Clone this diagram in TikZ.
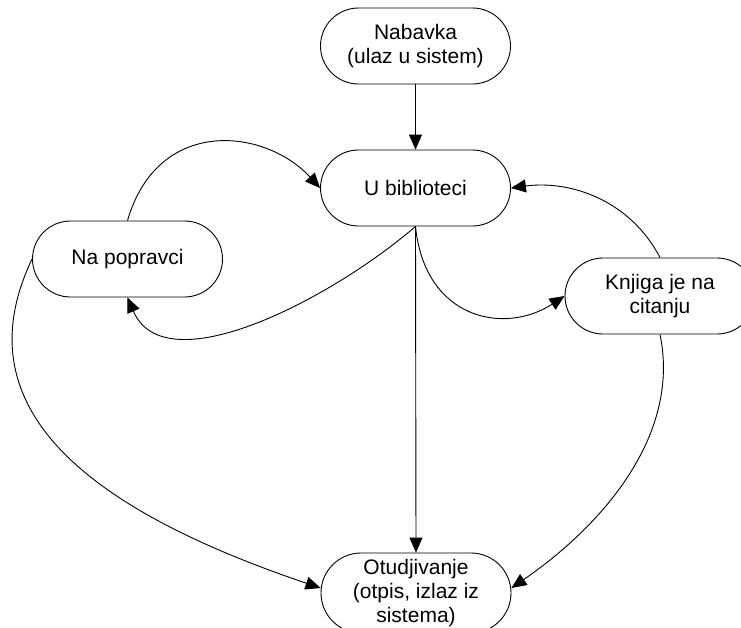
\documentclass[tikz,border=0pt]{standalone}
\usepackage{fontspec}
\setmainfont{Liberation Sans}
\usetikzlibrary{arrows.meta}

\begin{document}
\begin{tikzpicture}[
    x=1pt, y=-1pt,
    state/.style={draw, line width=0.9pt, rectangle, rounded corners=38pt,
      minimum width=190pt, minimum height=76pt, inner sep=2pt, align=center,
      font=\fontsize{21}{24}\selectfont},
    flow/.style={draw, line width=0.9pt,
      -{Triangle[length=15pt,width=13pt]}}
  ]
  % canvas
  \fill[white] (0,0) rectangle (741,627);
  \useasboundingbox (0,0) rectangle (741,627);

  % states of a book
  \node[state] (nab) at (415.5,46)  {Nabavka\\(ulaz u sistem)};
  \node[state] (bib) at (415.5,188) {U biblioteci};
  \node[state] (pop) at (127.5,259) {Na popravci};
  \node[state] (knj) at (660,296)   {Knjiga je na\\citanju};
  \node[state, minimum height=80pt, rounded corners=40pt] (otu) at (416,593)
    {Otudjivanje\\(otpis, izlaz iz\\sistema)};

  % transitions
  \draw[flow] (nab.south) -- (bib.north);
  \draw[flow] (pop.north) .. controls (158,116) and (265,128) .. (bib.west);
  \draw[flow] (bib.south) .. controls (330,300) and (165,385) .. (pop.south);
  \draw[flow] (bib.south) .. controls (425,320) and (505,335) .. (knj.west);
  \draw[flow] (knj.north) .. controls (630,200) and (570,180) .. (bib.east);
  \draw[flow] (bib.south) -- (otu.north);
  \draw[flow] (pop.west) .. controls (-40,410) and (90,510) .. ([yshift=5pt]otu.west);
  \draw[flow] (knj.south) .. controls (680,430) and (610,520) .. ([yshift=5pt]otu.east);
\end{tikzpicture}
\end{document}
